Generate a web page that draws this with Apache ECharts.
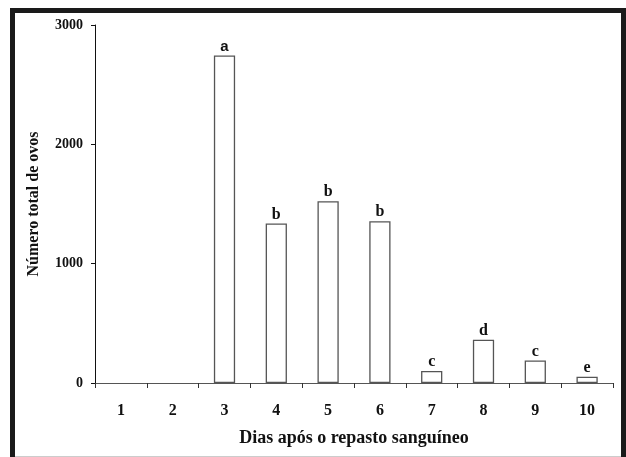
<!DOCTYPE html>
<html>
<head>
    <meta charset="utf-8">
    <title>Número total de ovos</title>
    <script src="https://cdn.jsdelivr.net/npm/echarts@6/dist/echarts.min.js"></script>
<style type="text/css">
html, body{
    margin: 0;
    padding: 0;
    background: #fff;
}
#chart{
    width: 626px;
    height: 457px;
}
</style>
</head>
<body>
    <div id="chart"></div>
    <script>
        // dados
        var dias = ['1', '2', '3', '4', '5', '6', '7', '8', '9', '10'];
        var ovos = [0, 0, 2745, 1336, 1523, 1355, 100, 363, 189, 53];
        var letras = ['', '', 'a', 'b', 'b', 'b', 'c', 'd', 'c', 'e'];
        var yTicks = [0, 1000, 2000, 3000];

        var serif = '"Liberation Serif", "Times New Roman", serif';
        var sans = '"Liberation Sans", Arial, sans-serif';

        var chart = echarts.init(document.getElementById('chart'), null, {renderer: 'canvas'});

        var barData = ovos.map(function(v, i){
            var item = {value: v};
            if (v === 0) {
                item.itemStyle = {borderWidth: 0, color: 'transparent'};
            }
            if (letras[i] === 'a') {
                // a letra "a" do original esta em fonte sem serifa
                item.label = {show: true, fontFamily: sans, fontWeight: 'bold', fontSize: 15};
            }
            return item;
        });

        var option = {
            animation: false,
            backgroundColor: '#fff',
            grid: {left: 95, right: 13, top: 25, bottom: 74},
            xAxis: {
                type: 'category',
                data: dias,
                axisLine: {lineStyle: {color: '#555', width: 1.2}},
                axisTick: {show: true, inside: false, length: 5, alignWithLabel: false, lineStyle: {color: '#333'}},
                axisLabel: {margin: 20, fontFamily: serif, fontWeight: 'bold', fontSize: 16, color: '#111'},
                name: 'Dias após o repasto sanguíneo',
                nameLocation: 'middle',
                nameGap: 46,
                nameTextStyle: {fontFamily: serif, fontWeight: 'bold', fontSize: 18, color: '#111'}
            },
            yAxis: {
                type: 'value',
                min: yTicks[0],
                max: yTicks[yTicks.length - 1],
                interval: 1000,
                splitLine: {show: false},
                axisLine: {show: true, lineStyle: {color: '#111', width: 1}},
                axisTick: {show: true, length: 4, lineStyle: {color: '#111'}},
                axisLabel: {
                    margin: 12,
                    fontFamily: serif,
                    fontWeight: 'bold',
                    fontSize: 14,
                    color: '#111',
                    formatter: function(v){ return String(v); }
                },
                name: 'Número total de ovos',
                nameLocation: 'middle',
                nameRotate: 90,
                nameGap: 53,
                nameTextStyle: {fontFamily: serif, fontWeight: 'bold', fontSize: 16, color: '#111'}
            },
            series: [{
                type: 'bar',
                data: barData,
                barWidth: '41%',
                itemStyle: {color: '#fff', borderColor: '#555', borderWidth: 1.3},
                label: {
                    show: true,
                    position: 'top',
                    distance: 1,
                    fontFamily: serif,
                    fontWeight: 'bold',
                    fontSize: 16,
                    color: '#111',
                    formatter: function(p){ return letras[p.dataIndex]; }
                }
            }],
            graphic: [
                {
                    type: 'rect',
                    shape: {x: 12.5, y: 10.5, width: 611, height: 470},
                    style: {fill: 'none', stroke: '#1a1a1a', lineWidth: 5},
                    silent: true
                },
                {
                    type: 'line',
                    shape: {x1: 15, y1: 456.5, x2: 621, y2: 456.5},
                    style: {stroke: '#ccc', lineWidth: 1},
                    silent: true
                }
            ]
        };
        chart.setOption(option);
    </script>
</body>
</html>
